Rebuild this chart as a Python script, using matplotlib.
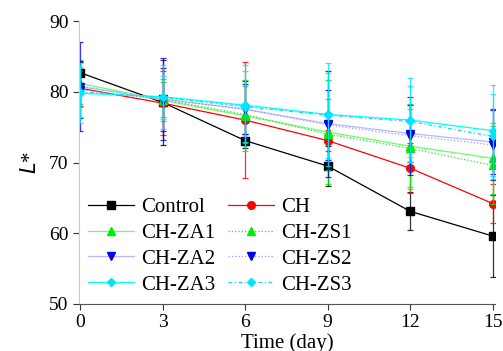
import matplotlib

matplotlib.use("Agg")
import matplotlib.pyplot as plt

days = [0, 3, 6, 9, 12, 15]
names = ["Control", "CH", "CH-ZA1", "CH-ZS1", "CH-ZA2", "CH-ZS2", "CH-ZA3", "CH-ZS3"]

control = [82.7, 78.5, 73.1, 69.5, 63.1, 59.6]
ch = [80.5, 78.4, 76.0, 73.1, 69.2, 64.2]
za1 = [81.2, 78.8, 76.6, 74.3, 72.3, 70.6]
zs1 = [80.8, 78.9, 76.8, 74.0, 72.0, 69.6]
za2 = [80.7, 79.0, 77.5, 75.5, 74.1, 72.9]
zs2 = [80.3, 78.9, 77.6, 75.3, 73.8, 72.5]
za3 = [79.8, 79.3, 78.1, 76.8, 76.0, 74.5]
zs3 = [80.0, 79.2, 77.9, 76.7, 75.8, 73.7]

control_err = [1.5, 6.0, 1.0, 2.8, 2.7, 5.8]
ch_err = [2.5, 4.5, 8.2, 1.5, 3.5, 2.7]
za1_err = [3.3, 3.0, 5.0, 7.4, 6.0, 5.0]
zs1_err = [2.5, 2.5, 4.0, 5.0, 5.5, 5.5]
za2_err = [6.3, 5.8, 4.0, 7.5, 4.0, 4.5]
zs2_err = [4.0, 4.5, 3.5, 5.0, 5.5, 5.0]
za3_err = [4.2, 4.5, 5.7, 7.3, 5.9, 6.4]
zs3_err = [3.5, 3.0, 5.0, 6.0, 5.0, 6.0]

values = [control, ch, za1, zs1, za2, zs2, za3, zs3]
errors = [control_err, ch_err, za1_err, zs1_err, za2_err, zs2_err, za3_err, zs3_err]

# (line colour, marker colour, marker, linestyle)
styles = [
    ("black", "black", "s", "-"),
    ("red", "red", "o", "-"),
    ("#66ff66", "#00ee00", "^", "-"),
    ("#33dd33", "#00ee00", "^", ":"),
    ("#b8b8ff", "#0000ee", "v", "-"),
    ("#9999ff", "#0000ee", "v", ":"),
    ("#00ffff", "#00e5ff", "D", "-"),
    ("#00e5ee", "#00e5ff", "D", (0, (3, 2, 1, 2))),
]

plt.rcParams["font.family"] = ["Liberation Serif", "DejaVu Serif"]

fig = plt.figure(figsize=(5.03, 3.51), dpi=100)
ax = fig.add_axes([0.157, 0.134, 0.828, 0.806])

handles = []
for name, vals, err, (lc, mc, mk, ls) in zip(names, values, errors, styles):
    ax.errorbar(days, vals, yerr=err, fmt="none", ecolor=mc, elinewidth=0.9,
                capsize=2.5, capthick=0.9, alpha=0.8)
    ms = 4.5 if mk == "D" else 5.5
    (h,) = ax.plot(days, vals, color=lc, linestyle=ls, linewidth=0.9,
                   marker=mk, markersize=ms, markerfacecolor=mc,
                   markeredgecolor=mc, label=name)
    handles.append(h)

ax.set_xlim(-0.04, 15.1)
ax.set_ylim(50, 90)
ax.set_xticks(days)
ax.set_yticks([50, 60, 70, 80, 90])
ax.tick_params(direction="out", length=4, width=0.8, labelsize=14, colors="#333333",
               labelcolor="black")
for side in ("top", "right"):
    ax.spines[side].set_visible(False)
ax.spines["left"].set_color("#cccccc")
ax.spines["bottom"].set_color("#555555")

ax.set_xlabel("Time (day)", fontsize=15, labelpad=1)
ax.set_ylabel(r"$\it{L}$*", fontsize=15, labelpad=6)

# legend is filled row by row in the reference: left column ZA, right column ZS
order = [0, 2, 4, 6, 1, 3, 5, 7]
ax.legend(handles=[handles[i] for i in order], ncol=2, loc="lower left",
          bbox_to_anchor=(0.0, 0.0), frameon=False, fontsize=15,
          handlelength=2.2, handletextpad=0.35, columnspacing=0.6,
          labelspacing=0.3, borderaxespad=0.05)

fig.savefig("out.png", dpi=100)
